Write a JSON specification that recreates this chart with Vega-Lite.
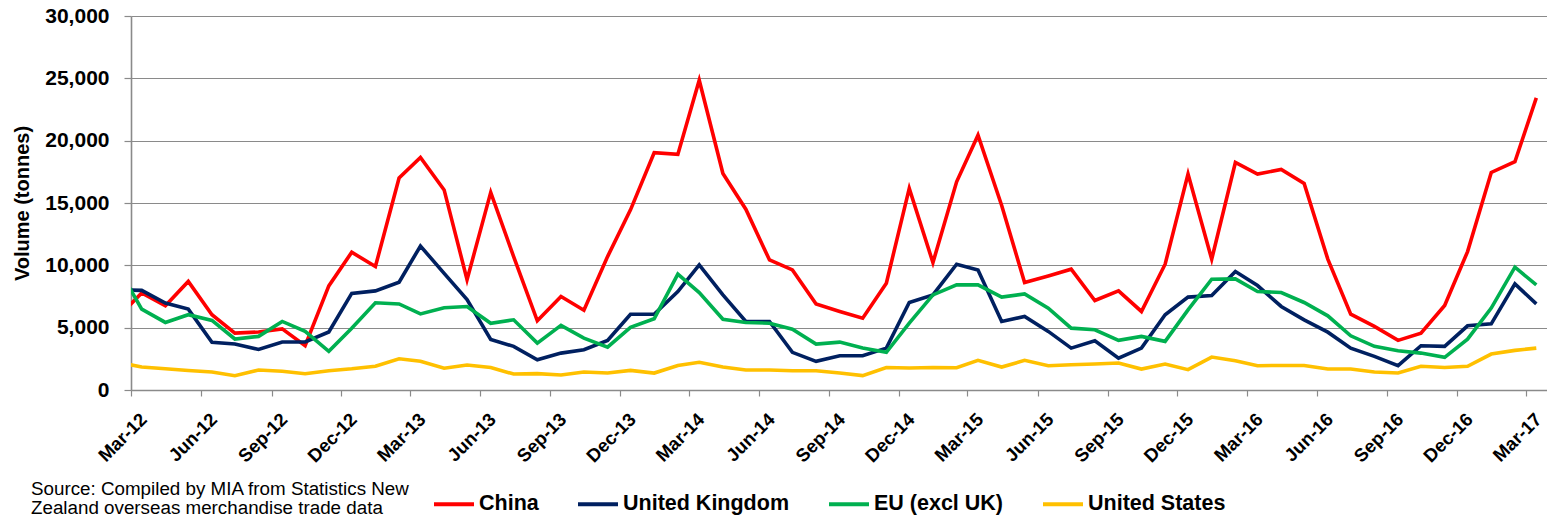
{
  "$schema": "https://vega.github.io/schema/vega-lite/v6.json",
  "autosize": "none",
  "width": 1416,
  "height": 374,
  "padding": {"left": 131, "top": 16, "right": 0, "bottom": 129},
  "background": "white",
  "config": {"view": {"stroke": null}, "font": "Liberation Sans"},
  "title": {
    "text": ["Source: Compiled by MIA from Statistics New", "Zealand overseas merchandise trade data"],
    "orient": "bottom",
    "anchor": "start",
    "frame": "group",
    "dx": -100,
    "offset": 18,
    "dy": -53,
    "baseline": "top",
    "font": "Liberation Sans",
    "fontSize": 18.8,
    "fontWeight": "normal",
    "lineHeight": 18.8,
    "color": "#000000"
  },
  "data": {"values": [
    {"date": "2012/02/15", "China": 5970, "United Kingdom": 8040, "EU (excl UK)": 9600, "United States": 2200},
    {"date": "2012/03/15", "China": 7780, "United Kingdom": 7990, "EU (excl UK)": 6490, "United States": 1840},
    {"date": "2012/04/15", "China": 6760, "United Kingdom": 6980, "EU (excl UK)": 5420, "United States": 1710},
    {"date": "2012/05/15", "China": 8710, "United Kingdom": 6490, "EU (excl UK)": 6040, "United States": 1570},
    {"date": "2012/06/15", "China": 6040, "United Kingdom": 3820, "EU (excl UK)": 5580, "United States": 1440},
    {"date": "2012/07/15", "China": 4560, "United Kingdom": 3690, "EU (excl UK)": 4090, "United States": 1150},
    {"date": "2012/08/15", "China": 4650, "United Kingdom": 3250, "EU (excl UK)": 4300, "United States": 1600},
    {"date": "2012/09/15", "China": 4900, "United Kingdom": 3850, "EU (excl UK)": 5500, "United States": 1500},
    {"date": "2012/10/15", "China": 3550, "United Kingdom": 3850, "EU (excl UK)": 4700, "United States": 1300},
    {"date": "2012/11/15", "China": 8350, "United Kingdom": 4650, "EU (excl UK)": 3100, "United States": 1550},
    {"date": "2012/12/15", "China": 11050, "United Kingdom": 7750, "EU (excl UK)": 4950, "United States": 1700},
    {"date": "2013/01/15", "China": 9900, "United Kingdom": 7950, "EU (excl UK)": 7000, "United States": 1900},
    {"date": "2013/02/15", "China": 17000, "United Kingdom": 8650, "EU (excl UK)": 6900, "United States": 2500},
    {"date": "2013/03/15", "China": 18650, "United Kingdom": 11550, "EU (excl UK)": 6100, "United States": 2300},
    {"date": "2013/04/15", "China": 16050, "United Kingdom": 9350, "EU (excl UK)": 6600, "United States": 1750},
    {"date": "2013/05/15", "China": 8850, "United Kingdom": 7250, "EU (excl UK)": 6700, "United States": 2000},
    {"date": "2013/06/15", "China": 15850, "United Kingdom": 4050, "EU (excl UK)": 5350, "United States": 1800},
    {"date": "2013/07/15", "China": 10700, "United Kingdom": 3500, "EU (excl UK)": 5630, "United States": 1280},
    {"date": "2013/08/15", "China": 5550, "United Kingdom": 2430, "EU (excl UK)": 3760, "United States": 1310},
    {"date": "2013/09/15", "China": 7500, "United Kingdom": 2960, "EU (excl UK)": 5180, "United States": 1200},
    {"date": "2013/10/15", "China": 6400, "United Kingdom": 3230, "EU (excl UK)": 4160, "United States": 1440},
    {"date": "2013/11/15", "China": 10700, "United Kingdom": 3980, "EU (excl UK)": 3440, "United States": 1360},
    {"date": "2013/12/15", "China": 14450, "United Kingdom": 6080, "EU (excl UK)": 5020, "United States": 1570},
    {"date": "2014/01/15", "China": 19030, "United Kingdom": 6080, "EU (excl UK)": 5710, "United States": 1360},
    {"date": "2014/02/15", "China": 18900, "United Kingdom": 7900, "EU (excl UK)": 9290, "United States": 1970},
    {"date": "2014/03/15", "China": 24850, "United Kingdom": 10030, "EU (excl UK)": 7820, "United States": 2220},
    {"date": "2014/04/15", "China": 17370, "United Kingdom": 7630, "EU (excl UK)": 5680, "United States": 1840},
    {"date": "2014/05/15", "China": 14500, "United Kingdom": 5500, "EU (excl UK)": 5420, "United States": 1600},
    {"date": "2014/06/15", "China": 10430, "United Kingdom": 5500, "EU (excl UK)": 5360, "United States": 1600},
    {"date": "2014/07/15", "China": 9630, "United Kingdom": 3020, "EU (excl UK)": 4880, "United States": 1550},
    {"date": "2014/08/15", "China": 6900, "United Kingdom": 2300, "EU (excl UK)": 3680, "United States": 1550},
    {"date": "2014/09/15", "China": 6300, "United Kingdom": 2750, "EU (excl UK)": 3840, "United States": 1360},
    {"date": "2014/10/15", "China": 5760, "United Kingdom": 2750, "EU (excl UK)": 3360, "United States": 1150},
    {"date": "2014/11/15", "China": 8570, "United Kingdom": 3360, "EU (excl UK)": 3020, "United States": 1810},
    {"date": "2014/12/15", "China": 16170, "United Kingdom": 7020, "EU (excl UK)": 5360, "United States": 1760},
    {"date": "2015/01/15", "China": 10220, "United Kingdom": 7630, "EU (excl UK)": 7630, "United States": 1810},
    {"date": "2015/02/15", "China": 16700, "United Kingdom": 10090, "EU (excl UK)": 8430, "United States": 1790},
    {"date": "2015/03/15", "China": 20440, "United Kingdom": 9630, "EU (excl UK)": 8430, "United States": 2380},
    {"date": "2015/04/15", "China": 14800, "United Kingdom": 5500, "EU (excl UK)": 7450, "United States": 1840},
    {"date": "2015/05/15", "China": 8620, "United Kingdom": 5900, "EU (excl UK)": 7710, "United States": 2380},
    {"date": "2015/06/15", "China": 9150, "United Kingdom": 4700, "EU (excl UK)": 6570, "United States": 1950},
    {"date": "2015/07/15", "China": 9690, "United Kingdom": 3360, "EU (excl UK)": 4960, "United States": 2030},
    {"date": "2015/08/15", "China": 7180, "United Kingdom": 3950, "EU (excl UK)": 4830, "United States": 2080},
    {"date": "2015/09/15", "China": 7950, "United Kingdom": 2560, "EU (excl UK)": 3980, "United States": 2160},
    {"date": "2015/10/15", "China": 6300, "United Kingdom": 3360, "EU (excl UK)": 4300, "United States": 1680},
    {"date": "2015/11/15", "China": 10090, "United Kingdom": 6030, "EU (excl UK)": 3900, "United States": 2080},
    {"date": "2015/12/15", "China": 17320, "United Kingdom": 7450, "EU (excl UK)": 6430, "United States": 1630},
    {"date": "2016/01/15", "China": 10490, "United Kingdom": 7580, "EU (excl UK)": 8890, "United States": 2640},
    {"date": "2016/02/15", "China": 18250, "United Kingdom": 9500, "EU (excl UK)": 8910, "United States": 2350},
    {"date": "2016/03/15", "China": 17320, "United Kingdom": 8380, "EU (excl UK)": 7900, "United States": 1950},
    {"date": "2016/04/15", "China": 17690, "United Kingdom": 6700, "EU (excl UK)": 7820, "United States": 1970},
    {"date": "2016/05/15", "China": 16570, "United Kingdom": 5630, "EU (excl UK)": 7020, "United States": 1970},
    {"date": "2016/06/15", "China": 10500, "United Kingdom": 4640, "EU (excl UK)": 5950, "United States": 1680},
    {"date": "2016/07/15", "China": 6080, "United Kingdom": 3360, "EU (excl UK)": 4350, "United States": 1680},
    {"date": "2016/08/15", "China": 5100, "United Kingdom": 2700, "EU (excl UK)": 3500, "United States": 1440},
    {"date": "2016/09/15", "China": 3980, "United Kingdom": 1950, "EU (excl UK)": 3150, "United States": 1360},
    {"date": "2016/10/15", "China": 4560, "United Kingdom": 3550, "EU (excl UK)": 2960, "United States": 1900},
    {"date": "2016/11/15", "China": 6780, "United Kingdom": 3500, "EU (excl UK)": 2620, "United States": 1810},
    {"date": "2016/12/15", "China": 11100, "United Kingdom": 5150, "EU (excl UK)": 4080, "United States": 1900},
    {"date": "2017/01/15", "China": 17450, "United Kingdom": 5310, "EU (excl UK)": 6570, "United States": 2880},
    {"date": "2017/02/15", "China": 18310, "United Kingdom": 8510, "EU (excl UK)": 9850, "United States": 3180},
    {"date": "2017/03/15", "China": 23430, "United Kingdom": 6910, "EU (excl UK)": 8430, "United States": 3360}
  ]},
  "transform": [
    {"fold": ["China", "United Kingdom", "EU (excl UK)", "United States"], "as": ["series", "value"]}
  ],
  "mark": {"type": "line", "strokeWidth": 3.6, "clip": true},
  "encoding": {
    "x": {
      "field": "date",
      "type": "temporal",
      "scale": {"domain": [{"year": 2012, "month": "Mar", "date": 1}, {"year": 2017, "month": "Mar", "date": 29}]},
      "axis": {
        "values": [
          {"year": 2012, "month": "Mar", "date": 1}, {"year": 2012, "month": "Jun", "date": 1}, {"year": 2012, "month": "Sep", "date": 1}, {"year": 2012, "month": "Dec", "date": 1},
          {"year": 2013, "month": "Mar", "date": 1}, {"year": 2013, "month": "Jun", "date": 1}, {"year": 2013, "month": "Sep", "date": 1}, {"year": 2013, "month": "Dec", "date": 1},
          {"year": 2014, "month": "Mar", "date": 1}, {"year": 2014, "month": "Jun", "date": 1}, {"year": 2014, "month": "Sep", "date": 1}, {"year": 2014, "month": "Dec", "date": 1},
          {"year": 2015, "month": "Mar", "date": 1}, {"year": 2015, "month": "Jun", "date": 1}, {"year": 2015, "month": "Sep", "date": 1}, {"year": 2015, "month": "Dec", "date": 1},
          {"year": 2016, "month": "Mar", "date": 1}, {"year": 2016, "month": "Jun", "date": 1}, {"year": 2016, "month": "Sep", "date": 1}, {"year": 2016, "month": "Dec", "date": 1},
          {"year": 2017, "month": "Mar", "date": 1}
        ],
        "format": "%b-%y",
        "title": null,
        "grid": false,
        "labelAngle": -45,
        "labelAlign": "right",
        "labelBaseline": "top",
        "labelFont": "Liberation Sans",
        "labelFontSize": 18.5,
        "labelFontWeight": "bold",
        "labelColor": "#000000",
        "labelOffset": 6,
        "labelPadding": 13.5,
        "labelFlush": false,
        "labelOverlap": false,
        "labelBound": false,
        "tickSize": 6,
        "tickColor": "#8a8a8a",
        "tickWidth": 1.2,
        "domainColor": "#8a8a8a",
        "domainWidth": 1.6
      }
    },
    "y": {
      "field": "value",
      "type": "quantitative",
      "scale": {"domain": [0, 30000], "nice": false},
      "axis": {
        "values": [0, 5000, 10000, 15000, 20000, 25000, 30000],
        "format": ",d",
        "title": "Volume (tonnes)",
        "titleFont": "Liberation Sans",
        "titleFontSize": 20,
        "titleFontWeight": "bold",
        "titleColor": "#000000",
        "titleAngle": -90,
        "titleX": -109,
        "titleY": 187,
        "titleAlign": "center",
        "titleBaseline": "middle",
        "labelFont": "Liberation Sans",
        "labelFontSize": 21,
        "labelFontWeight": "bold",
        "labelColor": "#000000",
        "labelPadding": 15,
        "tickSize": 7,
        "tickColor": "#8a8a8a",
        "tickWidth": 1.2,
        "domainColor": "#8a8a8a",
        "domainWidth": 1.6,
        "grid": true,
        "gridColor": "#8a8a8a",
        "gridWidth": 1.2
      }
    },
    "color": {
      "field": "series",
      "type": "nominal",
      "scale": {
        "domain": ["China", "United Kingdom", "EU (excl UK)", "United States"],
        "range": ["#ff0000", "#002060", "#00b050", "#ffc000"]
      },
      "legend": {
        "orient": "none",
        "legendX": 301,
        "legendY": 466,
        "direction": "horizontal",
        "title": null,
        "padding": 0,
        "symbolType": "stroke",
        "symbolSize": 1600,
        "symbolStrokeWidth": 4,
        "labelFont": "Liberation Sans",
        "labelFontSize": 21.5,
        "labelFontWeight": "bold",
        "labelColor": "#000000",
        "labelLimit": 400,
        "labelOffset": 3,
        "columnPadding": 31
      }
    }
  }
}
